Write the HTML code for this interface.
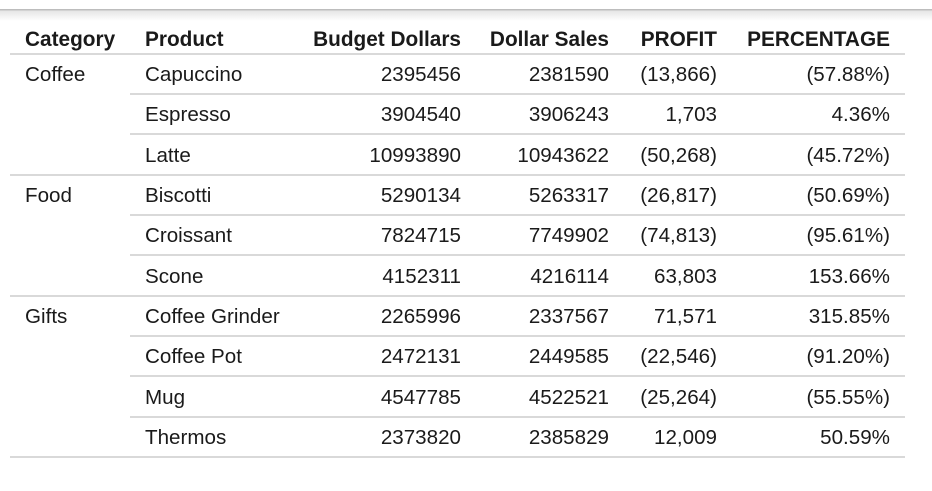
<!DOCTYPE html>
<html><head><meta charset="utf-8"><style>
body{margin:0;width:932px;height:491px;background:#fff;position:relative;overflow:hidden;font-family:"Liberation Sans",sans-serif;color:#1a1a1a;font-size:20.6px}
.topbar{position:absolute;left:0;top:9px;width:932px;height:12px;background:linear-gradient(#bdbdbd 0,#bdbdbd 1px,#e6e6e6 2px,#fff 12px)}
.t{position:absolute;white-space:nowrap;line-height:20px}
.h{font-weight:bold;font-size:20.8px}
.r{text-align:right}
.ln{position:absolute;height:2px;background:#d9d9d9}
</style></head><body>
<div class="topbar"></div>
<div id="tbl"></div>
<script>
const categories=["Coffee","","","Food","","","Gifts","","",""];
const products=["Capuccino","Espresso","Latte","Biscotti","Croissant","Scone","Coffee Grinder","Coffee Pot","Mug","Thermos"];
const budget=["2395456","3904540","10993890","5290134","7824715","4152311","2265996","2472131","4547785","2373820"];
const sales=["2381590","3906243","10943622","5263317","7749902","4216114","2337567","2449585","4522521","2385829"];
const profit=["(13,866)","1,703","(50,268)","(26,817)","(74,813)","63,803","71,571","(22,546)","(25,264)","12,009"];
const pct=["(57.88%)","4.36%","(45.72%)","(50.69%)","(95.61%)","153.66%","315.85%","(91.20%)","(55.55%)","50.59%"];
const tbl=document.getElementById('tbl');
function txt(s,x,y,right,cls,name){const d=document.createElement('div');d.className='t '+(cls||'')+(right?' r':'');d.textContent=s;d.style.top=(y-10)+'px';if(right){d.style.left=(x-200)+'px';d.style.width='200px';}else d.style.left=x+'px';


tbl.appendChild(d);}
function line(x,y,w,name){const d=document.createElement('div');d.className='ln';d.style.left=x+'px';d.style.top=y+'px';d.style.width=w+'px';


tbl.appendChild(d);}
const hy=40;
txt("Category",25,hy,false,'h','header-category');
txt("Product",145,hy,false,'h','header-product');
txt("Budget Dollars",461,hy,true,'h','header-budget-dollars');
txt("Dollar Sales",609,hy,true,'h','header-dollar-sales');
txt("PROFIT",717,hy,true,'h','header-profit');
txt("PERCENTAGE",890,hy,true,'h','header-percentage');
line(10,53,895,'header-divider');
const rh=40.35;
for(let i=0;i<products.length;i++){
 const y=75+rh*i;
 if(categories[i])txt(categories[i],25,y,false,'','category-cell');
 txt(products[i],145,y,false,'','product-cell');
 txt(budget[i],461,y,true,'','budget-cell');
 txt(sales[i],609,y,true,'','sales-cell');
 txt(profit[i],717,y,true,'','profit-cell');
 txt(pct[i],890,y,true,'','percentage-cell');
 const ly=Math.round(93+rh*i);
 const full=(i===2||i===5||i===9);
 if(full)line(10,ly,895,'group-divider');else line(130,ly,775,'row-divider');
}
</script>
</body></html>
